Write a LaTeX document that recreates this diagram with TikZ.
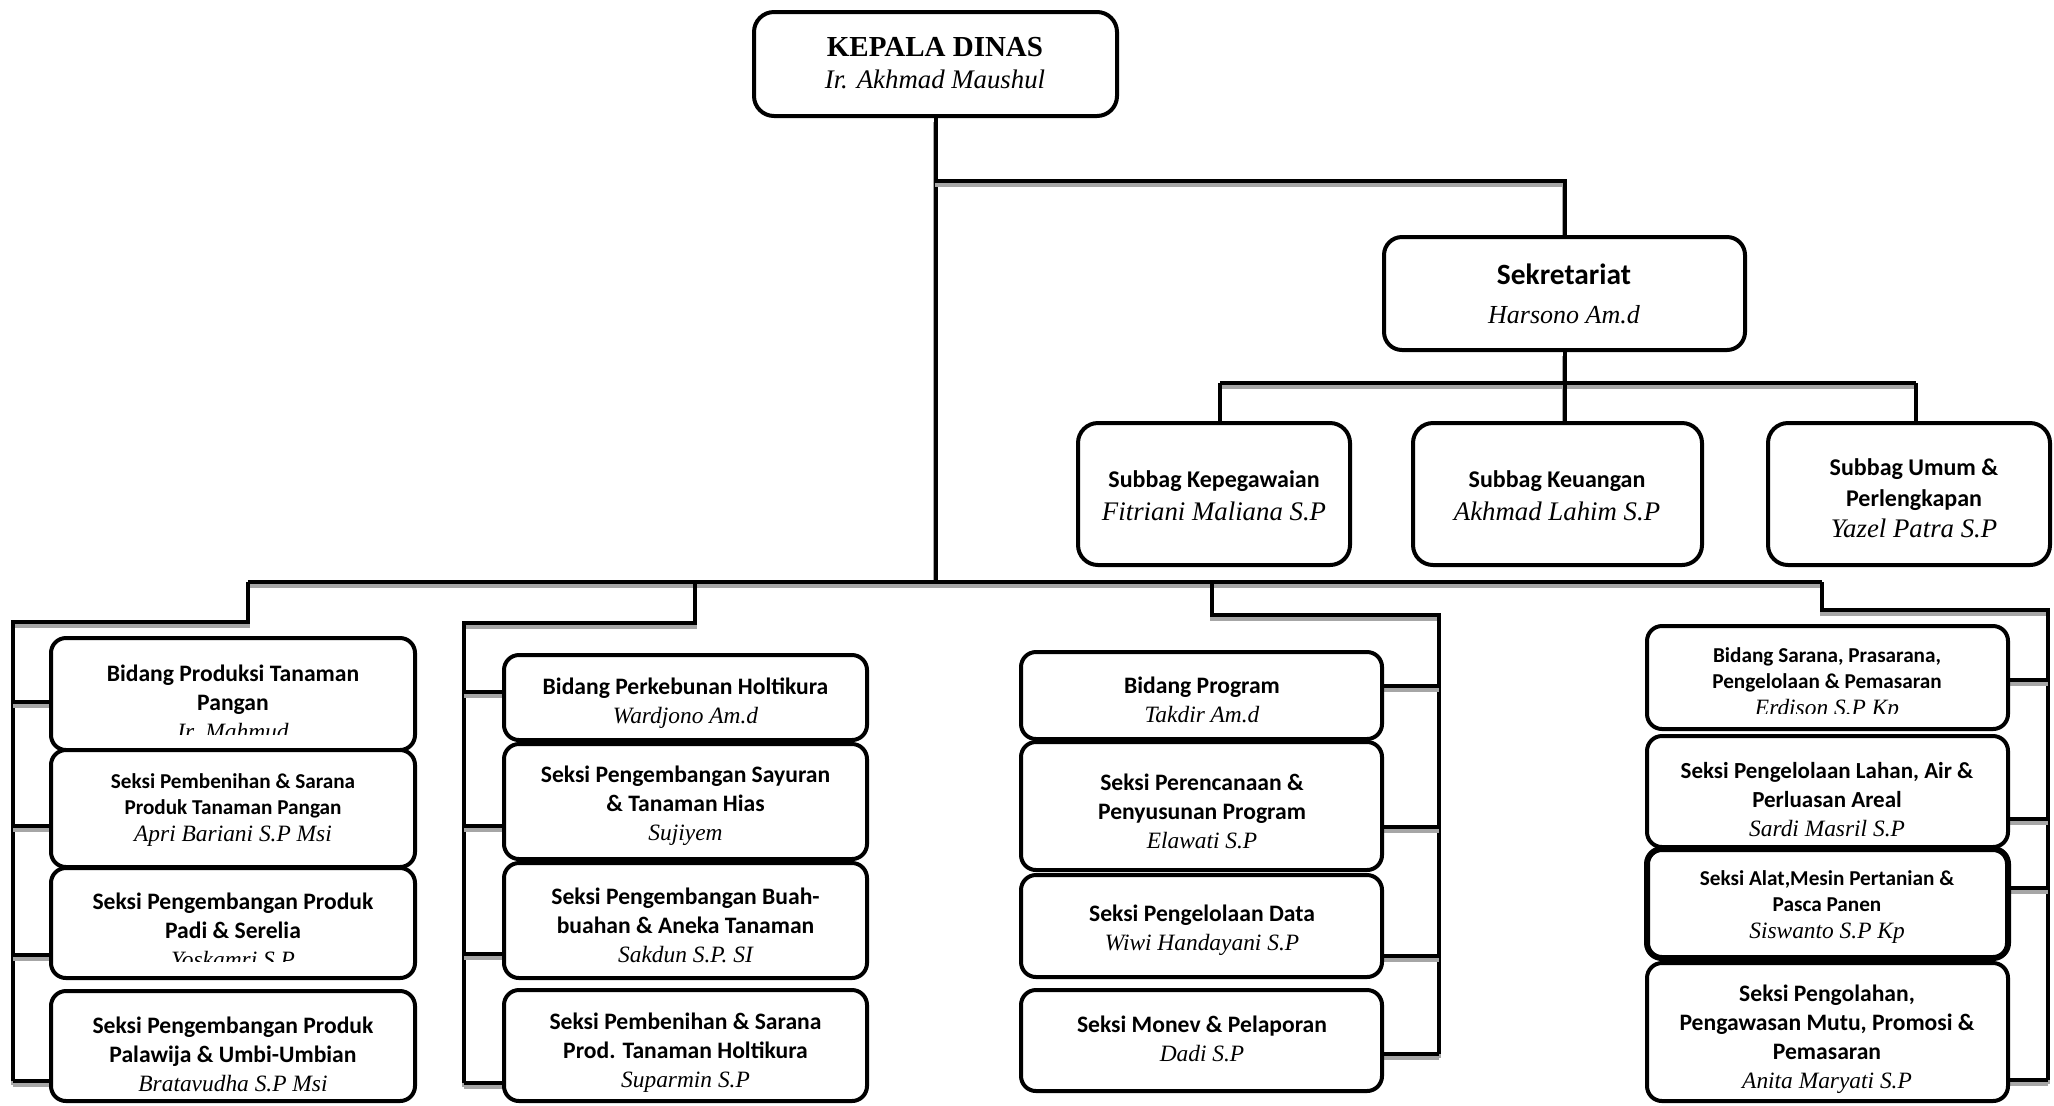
\documentclass[tikz,border=0pt]{standalone}
\usepackage{fontspec}
\setmainfont{Liberation Serif}
\newfontfamily\calfont{Carlito}
\usetikzlibrary{backgrounds}
\newcommand\nm[2][11.7]{{\normalfont\itshape\fontsize{#1}{14}\selectfont #2}}
\newcommand\obox[6][]{\node[box,#1,minimum width={(#5-#3)*0.5pt},minimum height={(#6-#4)*0.5pt}] (#2) at ({(#3+#5)/2},{(#4+#6)/2}) {};}
\begin{document}
\begin{tikzpicture}[x=0.5pt,y=-0.5pt,
  box/.style={draw=black, line width=2pt, rounded corners=7.5pt, fill=white, inner sep=0pt},
  conn/.style={draw=black, line width=2pt, preaction={draw=black!35, line width=2.4pt, transform canvas={yshift=-2pt}}},
  bt/.style={align=center, inner sep=0pt, font=\calfont\bfseries\fontsize{11.8}{14.5}\selectfont},
  st/.style={align=center, inner sep=0pt, font=\calfont\bfseries\fontsize{10.6}{13.2}\selectfont},
  mt/.style={align=center, inner sep=0pt, font=\calfont\bfseries\fontsize{11.5}{14.5}\selectfont},
]
\useasboundingbox (0,0) rectangle (2054,1105);

% top boxes
\obox[rounded corners=10pt]{k}{754}{12}{1117}{116}
\obox[rounded corners=9pt]{sek}{1384}{237}{1745}{350}
\obox[rounded corners=10pt]{s1}{1078}{423}{1350}{565}
\obox[rounded corners=10pt]{s2}{1413}{423}{1702}{565}
\obox[rounded corners=10pt]{s3}{1768}{423}{2050}{565}

% column 1
\obox{c1a}{51}{638}{415}{750}
\obox{c1b}{51}{750}{415}{867}
\obox{c1c}{51}{868}{415}{978}
\obox{c1d}{51}{991}{415}{1101}
% column 2
\obox{c2a}{504}{655}{867}{740}
\obox{c2b}{504}{744}{867}{859}
\obox{c2c}{504}{863}{867}{978}
\obox{c2d}{504}{990}{867}{1101}
% column 3
\obox{c3a}{1021}{652}{1382}{739}
\obox{c3b}{1021}{742}{1382}{870}
\obox{c3c}{1021}{875}{1382}{977}
\obox{c3d}{1021}{990}{1382}{1091}
% column 4
\obox{c4a}{1647}{626}{2008}{729}
\obox{c4b}{1647}{736}{2008}{847}
\obox[line width=3pt]{c4c}{1647}{849}{2008}{958}
\obox{c4d}{1647}{963}{2008}{1101}

% texts
\node[align=center, inner sep=0pt, font=\bfseries\fontsize{14.5}{16.3}\selectfont] (tk) at (935,63) {KEPALA DINAS\\\nm[13.4]{Ir. Akhmad Maushul}};
\node[align=center, inner sep=0pt, font=\calfont\bfseries\fontsize{14.7}{19.6}\selectfont] (tsek) at (1564,294) {Sekretariat\\\nm[13]{Harsono Am.d}};
\node[align=center, inner sep=0pt, font=\calfont\bfseries\fontsize{12}{16.5}\selectfont] (ts1) at (1214,496) {Subbag Kepegawaian\\\nm[13.4]{Fitriani Maliana S.P}};
\node[align=center, inner sep=0pt, font=\calfont\bfseries\fontsize{12}{16.5}\selectfont] (ts2) at (1557,496) {Subbag Keuangan\\\nm[13.4]{Akhmad Lahim S.P}};
\node[align=center, inner sep=0pt, font=\calfont\bfseries\fontsize{12}{15.5}\selectfont] (ts3) at (1914,498) {Subbag Umum \&\\Perlengkapan\\\nm[13.4]{Yazel Patra S.P}};

\begin{scope}
\clip (51,638) rectangle (415,734);
\node[bt] (t1a) at (233,702) {Bidang Produksi Tanaman\\Pangan\\\nm{Ir. Mahmud}};
\end{scope}
\node[st] (t1b) at (233,810) {Seksi Pembenihan \& Sarana\\Produk Tanaman Pangan\\\nm{Apri Bariani S.P Msi}};
\begin{scope}
\clip (51,868) rectangle (415,961);
\node[bt] (t1c) at (233,930) {Seksi Pengembangan Produk\\Padi \& Serelia\\\nm{Yoskamri S.P}};
\end{scope}
\node[bt] (t1d) at (233,1054) {Seksi Pengembangan Produk\\Palawija \& Umbi-Umbian\\\nm{Bratavudha S.P Msi}};

\node[bt] (t2a) at (685.5,703) {Bidang Perkebunan Holtikura\\\nm{Wardjono Am.d}};
\node[bt] (t2b) at (685.5,806) {Seksi Pengembangan Sayuran\\\& Tanaman Hias\\\nm{Sujiyem}};
\node[bt] (t2c) at (685.5,925) {Seksi Pengembangan Buah-\\buahan \& Aneka Tanaman\\\nm{Sakdun S.P. SI}};
\node[bt] (t2d) at (685.5,1053) {Seksi Pembenihan \& Sarana\\Prod. Tanaman Holtikura\\\nm{Suparmin S.P}};

\node[bt] (t3a) at (1202,700) {Bidang Program\\\nm{Takdir Am.d}};
\node[bt] (t3b) at (1202,811) {Seksi Perencanaan \&\\Penyusunan Program\\\nm{Elawati S.P}};
\node[bt] (t3c) at (1202,930) {Seksi Pengelolaan Data\\\nm{Wiwi Handayani S.P}};
\node[bt] (t3d) at (1202,1039) {Seksi Monev \& Pelaporan\\\nm{Dadi S.P}};

\begin{scope}
\clip (1647,626) rectangle (2008,713);
\node[st] (t4a) at (1827,684) {Bidang Sarana, Prasarana,\\Pengelolaan \& Pemasaran\\\nm{Erdison S.P Kp}};
\end{scope}
\node[mt] (t4b) at (1827,800) {Seksi Pengelolaan Lahan, Air \&\\Perluasan Areal\\\nm{Sardi Masril S.P}};
\node[st] (t4c) at (1827,907) {Seksi Alat,Mesin Pertanian \&\\Pasca Panen\\\nm{Siswanto S.P Kp}};
\node[bt] (t4d) at (1827,1039) {Seksi Pengolahan,\\Pengawasan Mutu, Promosi \&\\Pemasaran\\\nm{Anita Maryati S.P}};

% connectors
\coordinate (m) at (935,582);
\coordinate (mL) at (248,582);
\coordinate (mR) at (1822,582);
\coordinate (j0) at (935,181);
\coordinate (jsL) at (1220,383);
\coordinate (jsR) at (1916,383);
\coordinate (c1t) at (13,622);
\coordinate (c1e) at (13,1081);
\coordinate (c2s) at (695,582);
\coordinate (c2t) at (464,623);
\coordinate (c2e) at (464,1083);
\coordinate (c3s) at (1212,582);
\coordinate (c3t) at (1439,615);
\coordinate (c3e) at (1439,1054);
\coordinate (c4t) at (2048,610);
\coordinate (c4e) at (2048,1080);

\begin{pgfonlayer}{background}
\fill[white] (0,0) rectangle (2054,1105);
\draw[conn] (k.south) -- (k.south |- m);
\draw[conn] (j0) -| (sek.north);
\draw[conn] (sek.south) -- (sek.south |- jsL);
\draw[conn] (jsL) -- (jsR);
\draw[conn] (jsL) -- (jsL |- s1.north);
\draw[conn] (sek.south |- jsL) -- (sek.south |- s2.north);
\draw[conn] (jsR) -- (jsR |- s3.north);
\draw[conn] (mL) -- (mR);
% column 1
\draw[conn] (mL) |- (c1t) -- (c1e);
\draw[conn] (c1t |- 0,702) -- (c1a.west |- 0,702);
\draw[conn] (c1t |- 0,826) -- (c1b.west |- 0,826);
\draw[conn] (c1t |- 0,955) -- (c1c.west |- 0,955);
\draw[conn] (c1e) -- (c1d.west |- c1e);
% column 2
\draw[conn] (c2s) |- (c2t) -- (c2e);
\draw[conn] (c2t |- 0,692) -- (c2a.west |- 0,692);
\draw[conn] (c2t |- 0,826) -- (c2b.west |- 0,826);
\draw[conn] (c2t |- 0,954) -- (c2c.west |- 0,954);
\draw[conn] (c2e) -- (c2d.west |- c2e);
% column 3
\draw[conn] (c3s) |- (c3t) -- (c3e);
\draw[conn] (c3t |- 0,686) -- (c3a.east |- 0,686);
\draw[conn] (c3t |- 0,827) -- (c3b.east |- 0,827);
\draw[conn] (c3t |- 0,956) -- (c3c.east |- 0,956);
\draw[conn] (c3e) -- (c3d.east |- c3e);
% column 4
\draw[conn] (mR) |- (c4t) -- (c4e);
\draw[conn] (c4t |- 0,680) -- (c4a.east |- 0,680);
\draw[conn] (c4t |- 0,819) -- (c4b.east |- 0,819);
\draw[conn] (c4t |- 0,888) -- (c4c.east |- 0,888);
\draw[conn] (c4e) -- (c4d.east |- c4e);
\end{pgfonlayer}
\end{tikzpicture}
\end{document}
